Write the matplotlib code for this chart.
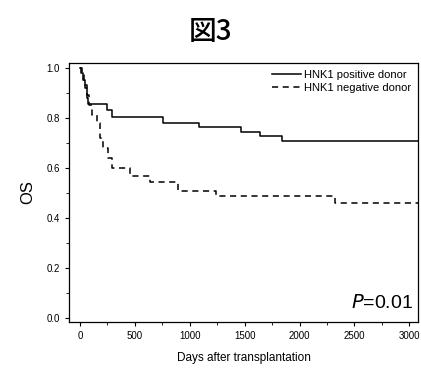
import matplotlib.pyplot as plt
from matplotlib.ticker import MultipleLocator

plt.rcParams['font.family'] = ['Liberation Sans', 'Noto Sans CJK JP', 'DejaVu Sans']

# Kaplan-Meier step points (day, survival)
pos_days = [0, 10, 30, 45, 60, 75, 245, 290, 755, 1080, 1465, 1636, 1836, 3080]
pos_os = [1.0, 0.98, 0.95, 0.92, 0.88, 0.855, 0.832, 0.804, 0.78, 0.765, 0.745, 0.73, 0.71, 0.71]

neg_days = [0, 20, 40, 60, 80, 110, 155, 180, 210, 255, 290, 455, 636, 890, 1236, 2327, 3080]
neg_os = [1.0, 0.97, 0.93, 0.89, 0.85, 0.81, 0.78, 0.72, 0.68, 0.64, 0.60, 0.57, 0.545, 0.51, 0.487, 0.46, 0.46]

y_ticks = [0, 0.2, 0.4, 0.6, 0.8, 1.0]
y_labels = ['0.0', '0.2', '0.4', '0.6', '0.8', '1.0']

fig = plt.figure(figsize=(4.21, 3.72), dpi=100)
ax = fig.add_axes([0.164, 0.134, 0.829, 0.697])

ax.step(pos_days, pos_os, where='post', color='black', lw=1.1, label='HNK1 positive donor')
ax.step(neg_days, neg_os, where='post', color='black', lw=1.1, ls=(0, (4, 3)), label='HNK1 negative donor')

ax.set_xlim(-100, 3080)
ax.set_ylim(-0.015, 1.02)
ax.xaxis.set_major_locator(MultipleLocator(500))
ax.xaxis.set_minor_locator(MultipleLocator(250))
ax.set_yticks(y_ticks)
ax.set_yticklabels(y_labels)
ax.yaxis.set_minor_locator(MultipleLocator(0.1))
ax.tick_params(which='major', direction='out', length=3, labelsize=7)
ax.tick_params(which='minor', direction='out', length=2)
for s in ax.spines.values():
    s.set_linewidth(0.9)

ax.set_ylabel('OS', fontsize=12, labelpad=8)
ax.set_xlabel('Days after transplantation', fontsize=8.5, labelpad=8)

ax.legend(loc='upper right', frameon=False, fontsize=8, handlelength=2.6,
          borderaxespad=0.2, labelspacing=0.3, handletextpad=0.3)
ax.text(0.985, 0.04, r'$\it{P}$=0.01', transform=ax.transAxes, ha='right', va='bottom', fontsize=14)

fig.text(0.5, 0.915, '図3', ha='center', va='center', fontsize=20, fontweight='medium',
         family=['Noto Sans CJK JP', 'DejaVu Sans'])

fig.savefig('out.png', dpi=100)
